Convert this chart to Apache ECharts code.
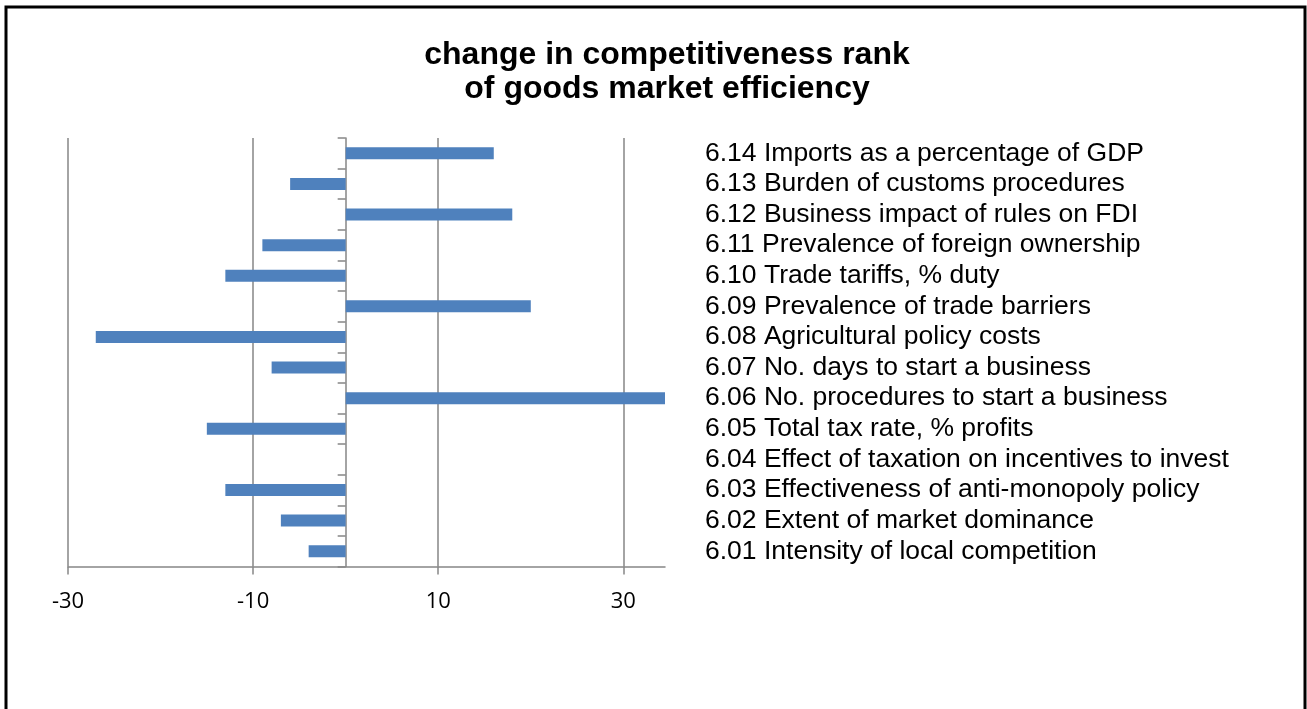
<!DOCTYPE html>
<html>
<head>
<meta charset="utf-8">
<script src="https://cdn.jsdelivr.net/npm/echarts@6/dist/echarts.min.js"></script>
<style>
html,body{margin:0;padding:0;background:#fff;}
#chart{width:1307px;height:709px;}
</style>
</head>
<body>
<div id="chart"></div>
<script>
// Data (bottom to top)
const categories = [
  '6.01 Intensity of local competition',
  '6.02 Extent of market dominance',
  '6.03 Effectiveness of anti-monopoly policy',
  '6.04 Effect of taxation on incentives to invest',
  '6.05 Total tax rate, % profits',
  '6.06 No. procedures to start a business',
  '6.07 No. days to start a business',
  '6.08 Agricultural policy costs',
  '6.09 Prevalence of trade barriers',
  '6.10 Trade tariffs, % duty',
  '6.11 Prevalence of foreign ownership',
  '6.12 Business impact of rules on FDI',
  '6.13 Burden of customs procedures',
  '6.14 Imports as a percentage of GDP'
];
const rankChange = [-4, -7, -13, 0, -15, 35, -8, -27, 20, -13, -9, 18, -6, 16];
const xMin = -30;
const xMax = 34.5;
const xStep = 20;
const titleLines = ['change in competitiveness rank', 'of goods market efficiency'];

const axisGray = '#868686';
const chart = echarts.init(document.getElementById('chart'), null, {renderer: 'canvas'});
chart.setOption({
  animation: false,
  backgroundColor: '#ffffff',
  title: {
    text: titleLines.join('\n'),
    left: 662, textAlign: 'center',
    top: 33,
    textStyle: {fontFamily: 'Liberation Sans, Arial, sans-serif', fontWeight: 'bold', fontSize: 32, lineHeight: 34, color: '#000'}
  },
  graphic: [{
    type: 'rect',
    shape: {x: 6, y: 7, width: 1299, height: 730},
    style: {fill: 'none', stroke: '#000', lineWidth: 3},
    silent: true
  }],
  grid: {left: 68, right: 642, top: 138, bottom: 142.5, containLabel: false},
  xAxis: {
    type: 'value',
    min: xMin, max: xMax, interval: xStep,
    axisLine: {show: true, onZero: false, lineStyle: {color: axisGray, width: 1.5}},
    axisTick: {show: true, length: 8, lineStyle: {color: axisGray, width: 1.5}},
    axisLabel: {show: true, margin: 24, showMaxLabel: false, color: '#000', fontFamily: 'Open Sans, sans-serif', fontSize: 22},
    splitLine: {show: true, showMaxLine: false, lineStyle: {color: axisGray, width: 1.5}}
  },
  yAxis: [{
    type: 'category',
    data: categories,
    axisLine: {show: true, onZero: true, lineStyle: {color: axisGray, width: 1.5}},
    axisTick: {show: true, length: 8, lineStyle: {color: axisGray, width: 1.5}},
    axisLabel: {show: false},
    splitLine: {show: false}
  }, {
    type: 'category',
    position: 'right',
    data: categories,
    axisLine: {show: false, onZero: false},
    axisTick: {show: false},
    axisLabel: {show: true, interval: 0, margin: 40, color: '#000', fontFamily: 'Liberation Sans, Arial, sans-serif', fontSize: 26.5},
    splitLine: {show: false}
  }],
  series: [{
    type: 'bar',
    yAxisIndex: 0,
    data: rankChange,
    barWidth: 12,
    clip: true,
    itemStyle: {color: '#4F81BD'}
  }]
});
</script>
</body>
</html>
